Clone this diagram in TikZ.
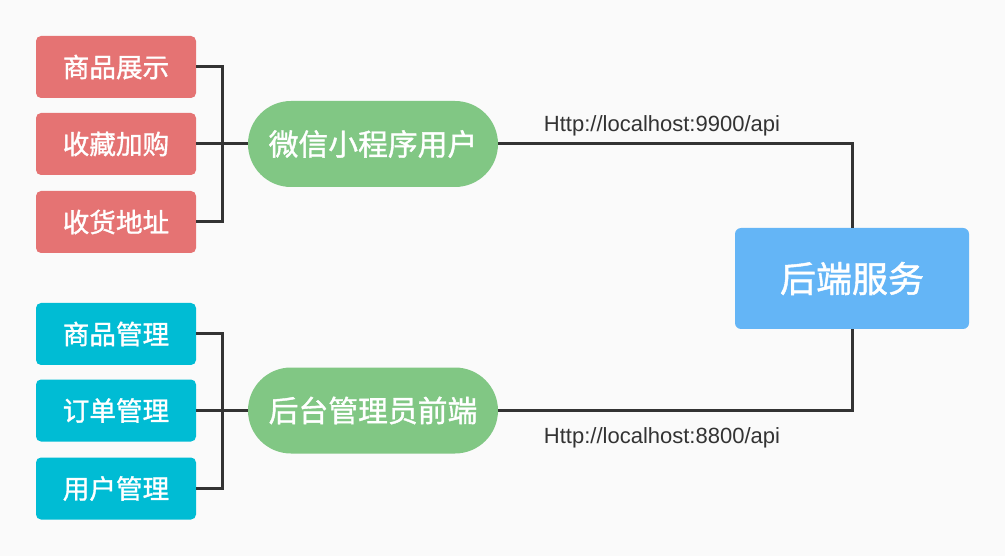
\documentclass[tikz,border=0pt]{standalone}
\usepackage{fontspec}
\setmainfont[FakeBold=1.2]{Noto Sans CJK SC}
\newfontfamily\urlfont{Liberation Sans}
\usetikzlibrary{shapes.misc}
\definecolor{bg}{HTML}{FAFAFA}
\definecolor{redbox}{HTML}{E57373}
\definecolor{cyanbox}{HTML}{00BCD4}
\definecolor{greenbox}{HTML}{81C784}
\definecolor{bluebox}{HTML}{64B5F6}
\definecolor{linec}{HTML}{333333}
\tikzset{
  leaf/.style={rounded corners=5pt, minimum width=160pt, minimum height=62pt, inner sep=0pt,
    text=white, font=\fontsize{26.6}{26.6}\selectfont},
  redleaf/.style={leaf, fill=redbox},
  cyanleaf/.style={leaf, fill=cyanbox},
  client/.style={rounded rectangle, fill=greenbox, minimum width=250pt, minimum height=86pt,
    inner sep=0pt, text=white, font=\fontsize{29.8}{29.8}\selectfont},
  server/.style={rounded corners=6pt, fill=bluebox, minimum width=234pt, minimum height=101pt,
    inner sep=0pt, text=white, font=\fontsize{36}{36}\selectfont},
  conn/.style={draw=linec, line width=3pt},
  urllabel/.style={text=linec, font=\urlfont\fontsize{22}{22}\selectfont, inner sep=0pt}
}
\begin{document}
\begin{tikzpicture}[x=1pt,y=-1pt]
\fill[bg] (0,0) rectangle (1005,556);
\useasboundingbox (0,0) rectangle (1005,556);
% top group
\node[redleaf] (r1) at (116,67) {商品展示};
\node[redleaf] (r2) at (116,144) {收藏加购};
\node[redleaf] (r3) at (116,222) {收货地址};
\node[client] (g1) at (373,144) {微信小程序用户};
\coordinate (j1) at (222,144);
% bottom group
\node[cyanleaf] (c1) at (116,334) {商品管理};
\node[cyanleaf] (c2) at (116,410.5) {订单管理};
\node[cyanleaf] (c3) at (116,488.5) {用户管理};
\node[client] (g2) at (373,410.5) {后台管理员前端};
\coordinate (j2) at (222,410.5);
% server
\node[server] (s) at (852,278.5) {后端服务};
% connectors
\draw[conn] (r1.east) -| (j1);
\draw[conn] (r3.east) -| (j1);
\draw[conn] (r2.east) -- (g1.west);
\draw[conn] (c1.east) -| (j2);
\draw[conn] (c3.east) -| (j2);
\draw[conn] (c2.east) -- (g2.west);
\draw[conn] (g1.east) -| (s.north);
\draw[conn] (g2.east) -| (s.south);
% labels
\node[urllabel] (l1) at (662,126) {Http://localhost:9900/api};
\node[urllabel] (l2) at (662,438) {Http://localhost:8800/api};
\end{tikzpicture}
\end{document}
